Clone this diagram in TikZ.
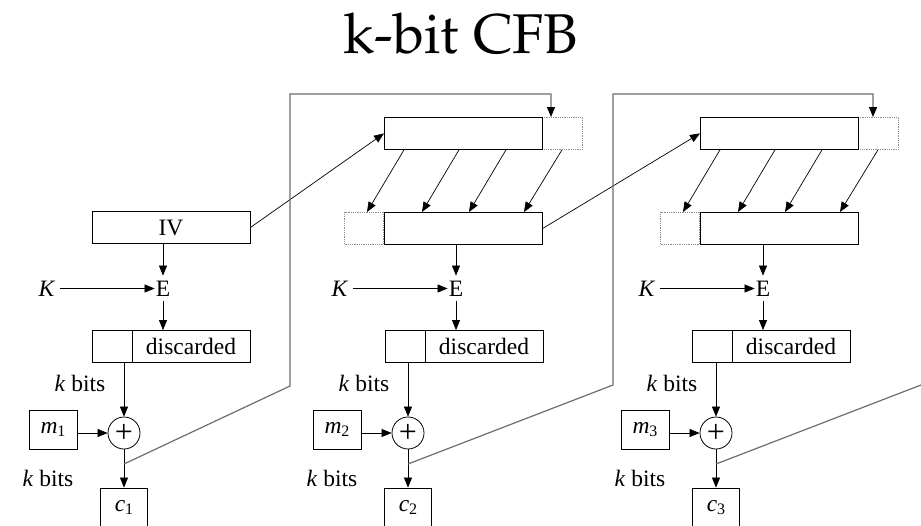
\documentclass[tikz,border=0pt]{standalone}
\usepackage{fontspec}
\setmainfont{Liberation Serif}
\usepackage{tikz}
\usetikzlibrary{arrows.meta,calc}
\definecolor{fbline}{HTML}{6E6E6E}
\definecolor{padline}{HTML}{8C8C8C}
\tikzset{
  blk/.style={draw,line width=0.8pt,inner sep=0pt,minimum height=32pt},
  pad/.style={draw=padline,densely dotted,line width=0.8pt,inner sep=0pt,minimum height=32pt},
  lbl/.style={inner sep=1pt},
  ein/.style={inner xsep=1pt,inner ysep=5pt},
  arr/.style={line width=0.7pt,-{Triangle[length=10pt,width=8pt]}},
  feed/.style={draw=fbline,line width=1.2pt,-{Triangle[length=10pt,width=8pt,color=black]}},
  xorop/.style={draw,circle,line width=0.8pt,minimum size=32pt,inner sep=0pt,font=\fontsize{32}{32}\selectfont},
}
\newcommand{\idx}[1]{\raisebox{-0.35ex}{\fontsize{16}{16}\selectfont #1}}
% shift register: #1 stage, #2 left edge
\newcommand{\shiftreg}[2]{%
  \node[pad,minimum width=40pt,anchor=north west] (ext#1) at (#2+158,117) {};
  \node[pad,minimum width=39pt,anchor=north east] (pre#1) at (#2,212) {};
  \node[blk,minimum width=158pt,anchor=north west] (top#1) at (#2,117) {};
  \node[blk,minimum width=158pt,anchor=north west] (reg#1) at (#2,212) {};
  \foreach \u/\v in {20/-17,75/38,122/85,178/140}
    \draw[arr] ([xshift=\u pt]top#1.south west) -- ([xshift=\v pt]reg#1.north west);
}
% encryption and xor: #1 stage, #2 x of E, #3 x of the xor
\newcommand{\encstage}[3]{%
  \node[ein] (E#1) at (#2,288.5) {E};
  \node[ein,inner xsep=4pt] (K#1) at (#2-116,288.5) {\textit{K}};
  \node[blk,minimum width=40pt] (keep#1) at (#2-51,346.5) {};
  \node[blk,minimum width=118pt] (drop#1) at (#2+28,346.5) {discarded};
  \node[xorop] (xor#1) at (#3,433) {+};
  \node[blk,minimum width=48pt,minimum height=39pt] (m#1) at (#3-71,429.5) {\textit{m}\idx{#1}};
  \node[blk,minimum width=47pt,minimum height=39pt] (c#1) at (#3,507.5) {\textit{c}\idx{#1}};
  \node[lbl] (ka#1) at (#3-44,383) {\textit{k} bits};
  \node[lbl] (kb#1) at (#3-76,478) {\textit{k} bits};
  \coordinate (j#1) at (#3,464);
  \draw[arr] (K#1) -- (E#1);
  \draw[arr] (E#1) -- (E#1 |- drop#1.north);
  \draw[arr] (xor#1 |- keep#1.south) -- (xor#1);
  \draw[arr] (m#1.east |- xor#1) -- (xor#1);
  \draw[arr] (xor#1) -- (c#1);
}

\begin{document}
\begin{tikzpicture}[x=1pt,y=-1pt,font=\fontsize{23.5}{27}\selectfont]
  \path[use as bounding box,fill=white] (0,0) rectangle (921,525);
  \node[anchor=base,font=\fontsize{56}{60}\fontencoding{OT1}\fontfamily{ppl}\selectfont] (title) at (461,53) {k-bit CFB};

  \node[blk,minimum width=158pt] (iv) at (171,227.5) {IV};
  \shiftreg{2}{384}
  \shiftreg{3}{700}

  \encstage{1}{163}{124}
  \encstage{2}{456}{408}
  \encstage{3}{763}{716}
  \draw[arr] (E1 |- iv.south) -- (E1);
  \draw[arr] (E2 |- reg2.south) -- (E2);
  \draw[arr] (E3 |- reg3.south) -- (E3);

  \draw[arr] (iv.east) -- (top2.west);
  \draw[arr] (reg2.east) -- (top3.west);

  \coordinate (fb1) at (290,386);
  \coordinate (up1) at (290,94);
  \coordinate (fb2) at (613,385);
  \coordinate (up2) at (613,94);
  \coordinate (fb3) at (921,385);
  \draw[feed] (j1) -- (fb1) -- (up1) -| ([xshift=9pt]ext2.north west);
  \draw[feed] (j2) -- (fb2) -- (up2) -| ([xshift=15pt]ext3.north west);
  \draw[feed,-] (j3) -- (fb3);
\end{tikzpicture}
\end{document}
